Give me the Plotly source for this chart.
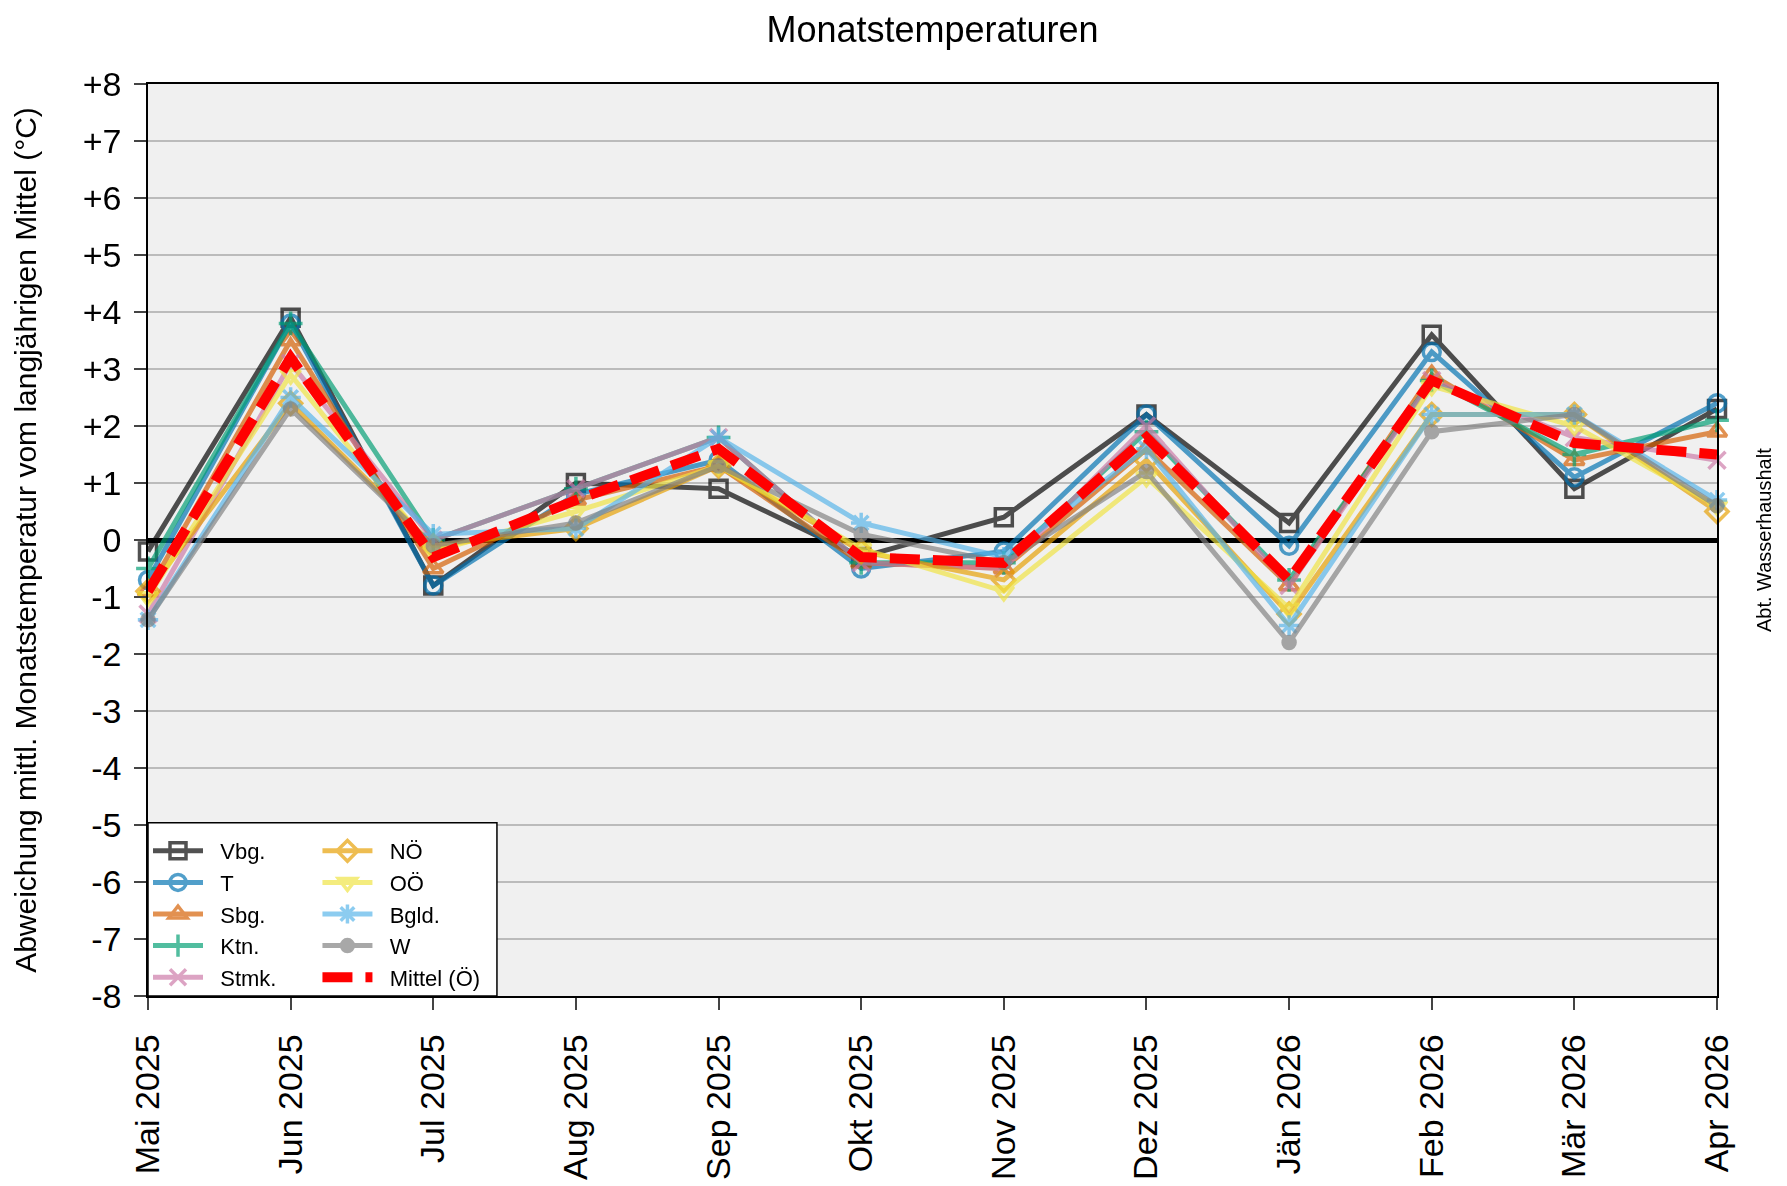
import plotly.graph_objects as go

# Monatsabweichungen der Temperatur vom langjährigen Mittel (°C)
months = ["Mai 2025", "Jun 2025", "Jul 2025", "Aug 2025", "Sep 2025", "Okt 2025",
          "Nov 2025", "Dez 2025", "Jän 2026", "Feb 2026", "Mär 2026", "Apr 2026"]

vbg = [-0.2, 3.9, -0.8, 1.0, 0.9, -0.3, 0.4, 2.2, 0.3, 3.6, 0.9, 2.3]
tirol = [-0.7, 3.8, -0.8, 0.8, 1.4, -0.5, -0.2, 2.2, -0.1, 3.3, 1.1, 2.4]
sbg = [-0.9, 3.5, -0.5, 0.7, 1.3, -0.4, -0.5, 1.6, -0.8, 2.9, 1.4, 1.9]
ktn = [-0.5, 3.8, 0.0, 0.9, 1.8, -0.4, -0.4, 1.9, -0.7, 2.8, 1.5, 2.1]
stmk = [-1.3, 3.1, 0.0, 0.9, 1.8, -0.4, -0.5, 2.0, -0.8, 2.8, 1.8, 1.4]
noe = [-0.9, 2.4, -0.1, 0.2, 1.3, -0.2, -0.7, 1.4, -1.3, 2.2, 2.2, 0.5]
ooe = [-1.0, 2.9, -0.2, 0.5, 1.3, -0.15, -0.9, 1.1, -1.2, 2.7, 2.0, 0.6]
bgld = [-1.4, 2.5, 0.1, 0.2, 1.8, 0.3, -0.3, 1.6, -1.5, 2.2, 2.2, 0.7]
wien = [-1.4, 2.3, -0.1, 0.3, 1.3, 0.1, -0.4, 1.2, -1.8, 1.9, 2.2, 0.6]
mittel = [-0.9, 3.2, -0.3, 0.7, 1.6, -0.3, -0.4, 1.8, -0.7, 2.8, 1.7, 1.5]

y_ticks = list(range(-8, 9))
y_labels = [f"{v:+d}" if v != 0 else "0" for v in y_ticks]

FONT = "Liberation Sans, Arial, sans-serif"
PAD = "\u00a0\u00a0"  # a little room between legend symbol and text

# name, values, colour, symbol, legend
series = [
    ("Vbg.", vbg, "#000000", "square-open", "legend"),
    ("T", tirol, "#0072B2", "circle-open", "legend"),
    ("Sbg.", sbg, "#D55E00", "triangle-up-open", "legend"),
    ("Ktn.", ktn, "#009E73", "cross-thin-open", "legend"),
    ("Stmk.", stmk, "#CC79A7", "x-thin-open", "legend"),
    ("NÖ", noe, "#E69F00", "diamond-open", "legend2"),
    ("OÖ", ooe, "#F0E442", "triangle-down-open", "legend2"),
    ("Bgld.", bgld, "#56B4E9", "asterisk-open", "legend2"),
    ("W", wien, "#808080", "circle", "legend2"),
]

fig = go.Figure()

for name, vals, col, sym, leg in series:
    fig.add_trace(go.Scatter(
        x=months, y=vals, name=PAD + name, mode="lines+markers",
        line=dict(color=col, width=5),
        marker=dict(symbol=sym, size=17 if sym != "circle" else 12, color=col,
                    line=dict(color=col, width=3.5)),
        opacity=0.68, cliponaxis=False, legend=leg,
    ))

fig.add_trace(go.Scatter(
    x=months, y=mittel, name=PAD + "Mittel (Ö)", mode="lines",
    line=dict(color="#FF0000", width=10, dash="30px,13px"),
    cliponaxis=False, legend="legend2",
))

# legend box
fig.add_shape(type="rect", xref="paper", yref="paper", x0=0, x1=0.2224, y0=0, y1=0.19,
              fillcolor="white", line=dict(color="black", width=1.5), layer="above")

fig.add_annotation(text="Abt. Wasserhaushalt", xref="paper", yref="paper",
                   x=1.03, y=0.5, xanchor="center", yanchor="middle",
                   textangle=-90, showarrow=False,
                   font=dict(size=20, family=FONT, color="black"))

legend_style = dict(
    bgcolor="rgba(0,0,0,0)", borderwidth=0,
    font=dict(size=22, family=FONT, color="black"),
    xanchor="left", yanchor="top", tracegroupgap=0, itemwidth=50,
)

fig.update_layout(
    width=1779, height=1178,
    margin=dict(l=140, r=70, t=76, b=190),
    paper_bgcolor="white", plot_bgcolor="#F0F0F0",
    title=dict(text="Monatstemperaturen", xref="paper", x=0.5, xanchor="center",
               y=0.982, yanchor="middle",
               font=dict(size=36, family=FONT, color="black")),
    font=dict(family=FONT, color="black"),
    legend=dict(x=0.0, y=0.182, **legend_style),
    legend2=dict(x=0.108, y=0.182, **legend_style),
    xaxis=dict(
        type="category", range=[0, len(months) - 1], automargin=False,
        showgrid=False, tickangle=-90, ticks="outside", ticklen=12, tickwidth=1.5,
        ticklabelstandoff=11,
        tickfont=dict(size=34, family=FONT, color="black"),
        showline=True, linecolor="black", linewidth=1.5, mirror=True,
    ),
    yaxis=dict(
        range=[-8, 8], tickvals=y_ticks, ticktext=y_labels,
        showgrid=True, gridcolor="#BBBBBB", gridwidth=1.5,
        zeroline=True, zerolinecolor="black", zerolinewidth=5,
        ticks="outside", ticklen=12, tickwidth=1.5, ticklabelstandoff=6,
        tickfont=dict(size=34, family=FONT, color="black"),
        showline=True, linecolor="black", linewidth=1.5, mirror=True,
        title=dict(text="Abweichung mittl. Monatstemperatur vom langjährigen Mittel (°C)",
                   font=dict(size=30, family=FONT, color="black"), standoff=37),
    ),
)

fig.write_html("out.html")
